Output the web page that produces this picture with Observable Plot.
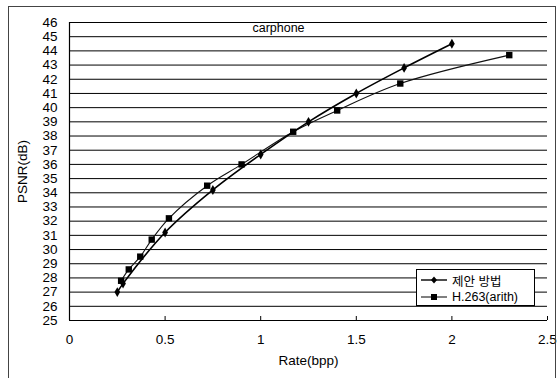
<!DOCTYPE html>
<html>
<head>
<meta charset="utf-8">
<script src="https://cdn.jsdelivr.net/npm/d3@7"></script>
<script src="https://cdn.jsdelivr.net/npm/@observablehq/plot@0.6"></script>
<style>
  html, body { margin: 0; padding: 0; background: #fff; }
  #wrap { position: relative; width: 560px; height: 378px; overflow: hidden; font-family: "Liberation Sans", Arial, "Noto Sans CJK KR", sans-serif; }
  #frame { position: absolute; left: 8px; top: 6px; width: 548px; height: 390px; border: 1px solid #444; box-sizing: border-box; pointer-events: none; }
  #legend { position: absolute; left: 416px; top: 269px; width: 119px; height: 37px; border: 1px solid #000; background: #fff; box-sizing: border-box; font-size: 12.5px; color: #000; }
  #legend .row { position: absolute; left: 3px; height: 16px; display: flex; align-items: center; }
  #legend svg { margin-right: 4px; }
</style>
</head>
<body>
<div id="wrap">
  <div id="chart"></div>
  <div id="frame"></div>
  <div id="legend"></div>
</div>
<script>
// Data
const seriesNames = ["제안 방법", "H.263(arith)"];
const rateA = [0.25, 0.28, 0.50, 0.75, 1.00, 1.25, 1.50, 1.75, 2.00];
const psnrA = [27.0, 27.6, 31.2, 34.2, 36.7, 39.0, 41.0, 42.8, 44.5];
const rateB = [0.27, 0.31, 0.37, 0.43, 0.52, 0.72, 0.90, 1.17, 1.40, 1.73, 2.30];
const psnrB = [27.8, 28.6, 29.5, 30.7, 32.2, 34.5, 36.0, 38.3, 39.8, 41.7, 43.7];
const xTicks = [0, 0.5, 1, 1.5, 2, 2.5];
const yTicks = d3.range(25, 47);
const chartTitle = "carphone";
const xLabel = "Rate(bpp)";
const yLabel = "PSNR(dB)";

const dataA = rateA.map((r, i) => ({rate: r, psnr: psnrA[i]}));
const dataB = rateB.map((r, i) => ({rate: r, psnr: psnrB[i]}));

const plot = Plot.plot({
  width: 560,
  height: 378,
  marginLeft: 69,
  marginRight: 13,
  marginTop: 22,
  marginBottom: 58,
  style: {background: "transparent", fontFamily: "'Liberation Sans', Arial, sans-serif", color: "#000"},
  x: {domain: [0, 2.5]},
  y: {domain: [25, 46]},
  marks: [
    Plot.ruleY(yTicks, {stroke: "#000", strokeWidth: 1}),
    Plot.ruleX([0], {stroke: "#000", strokeWidth: 1.2}),
    Plot.ruleY([25], {stroke: "#000", strokeWidth: 1.2}),
    Plot.axisY({ticks: yTicks, tickSize: 0, tickPadding: 12, fontSize: 13.5, label: yLabel, labelAnchor: "center", labelArrow: "none", labelOffset: 52}),
    Plot.axisX({ticks: xTicks, tickSize: -4, tickFormat: () => "", label: null}),
    Plot.axisX({ticks: xTicks, tickSize: 0, tickPadding: 14, fontSize: 13.5, tickFormat: d => String(d), label: xLabel, labelAnchor: "center", labelArrow: "none", labelOffset: 44}),
    Plot.line(dataB, {x: "rate", y: "psnr", stroke: "#111", strokeWidth: 1.1, curve: "catmull-rom"}),
    Plot.line(dataA, {x: "rate", y: "psnr", stroke: "#000", strokeWidth: 1.6, curve: "catmull-rom"}),
    Plot.dot(dataB, {x: "rate", y: "psnr", symbol: "square", r: 3.6, fill: "#000"}),
    Plot.dot(dataA, {x: "rate", y: "psnr", symbol: "diamond", r: 3.0, fill: "#000"}),
    Plot.text([chartTitle], {frameAnchor: "top", dx: -30, dy: 1, fontSize: 12.5, fill: "#000"})
  ]
});
document.getElementById("chart").appendChild(plot);

// Legend
const legend = document.getElementById("legend");
const symbols = ["diamond", "square"];
seriesNames.forEach((name, i) => {
  const row = document.createElement("div");
  row.className = "row";
  row.style.top = (2 + i * 17) + "px";
  const sym = symbols[i] === "diamond"
    ? `<path d="M14,4.5 L17,8 L14,11.5 L11,8 Z" fill="#000"/>`
    : `<rect x="11" y="5" width="6" height="6" fill="#000"/>`;
  row.innerHTML = `<svg width="28" height="16"><line x1="1" x2="27" y1="8" y2="8" stroke="#000" stroke-width="${i === 0 ? 1.4 : 1}"/>${sym}</svg><span>${name}</span>`;
  legend.appendChild(row);
});
</script>
</body>
</html>
